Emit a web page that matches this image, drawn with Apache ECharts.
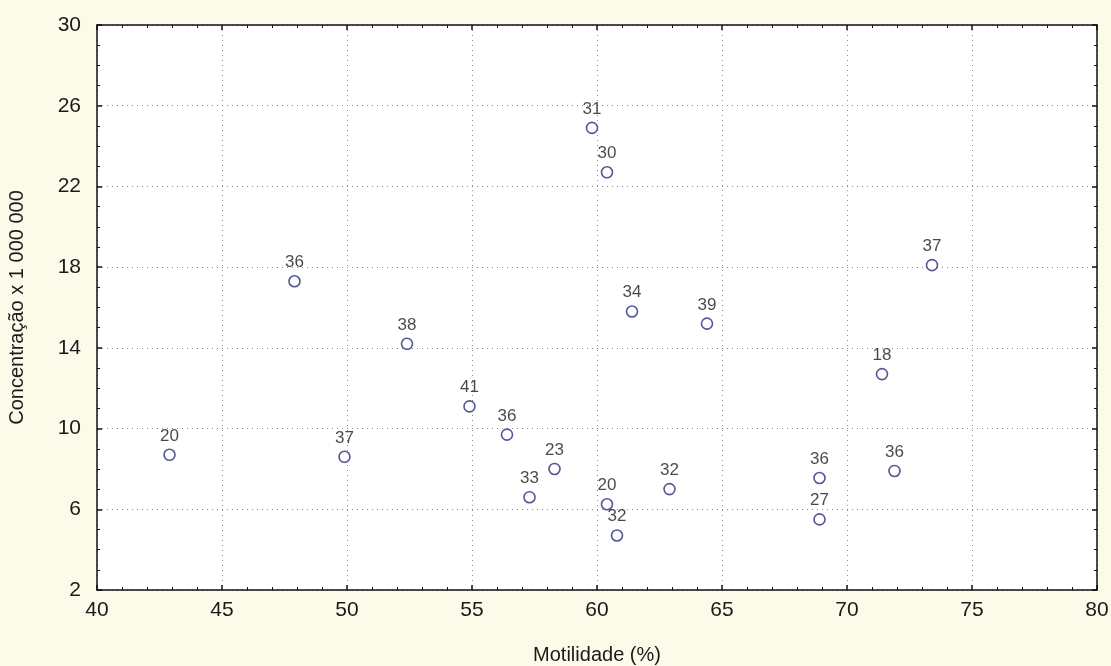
<!DOCTYPE html>
<html>
<head>
<meta charset="utf-8">
<script src="https://cdn.jsdelivr.net/npm/echarts@6/dist/echarts.min.js"></script>
<style>
html,body{margin:0;padding:0;background:#fcfbe9;}
#c{width:1111px;height:666px;}
</style>
</head>
<body>
<div id="c"></div>
<script>
// Data
const motilidade   = [42.9, 47.9, 49.9, 52.4, 54.9, 56.4, 57.3, 58.3, 60.4, 60.8, 62.9, 61.4, 64.4, 59.8, 60.4, 73.4, 71.4, 71.9, 68.9, 68.9];
const concentracao = [8.7, 17.3, 8.6, 14.2, 11.1, 9.7, 6.6, 8.0, 6.25, 4.7, 7.0, 15.8, 15.2, 24.9, 22.7, 18.1, 12.7, 7.9, 7.55, 5.5];
const pointLabels  = ['20', '36', '37', '38', '41', '36', '33', '23', '20', '32', '32', '34', '39', '31', '30', '37', '18', '36', '36', '27'];
const xTicks = [40, 45, 50, 55, 60, 65, 70, 75, 80];
const yTicks = [2, 6, 10, 14, 18, 22, 26, 30];
const xTitle = 'Motilidade (%)';
const yTitle = 'Concentração x 1 000 000';

const points = motilidade.map((x, i) => ({ value: [x, concentracao[i]], name: pointLabels[i] }));

const FONT = 'Liberation Sans, Arial, sans-serif';
const splitStyle = { show: true, lineStyle: { color: '#8a8a8a', type: [1, 4], width: 1 } };

function axisBase(min, max, interval, minorSplit) {
  return {
    type: 'value', min, max, interval,
    axisLine: { show: true, onZero: false, lineStyle: { color: '#111', width: 1.5 } },
    axisTick: { show: true, inside: true, length: 5, lineStyle: { color: '#111', width: 1.5 } },
    minorTick: { show: true, splitNumber: minorSplit, length: 3, lineStyle: { color: '#111', width: 1 } }
  };
}

const chart = echarts.init(document.getElementById('c'), null, { renderer: 'canvas' });
chart.setOption({
  backgroundColor: '#fcfbe9',
  animation: false,
  grid: { left: 97, right: 14, top: 25, bottom: 76, outerBoundsMode: 'none', containLabel: false,
          show: true, backgroundColor: '#ffffff', borderWidth: 0 },
  xAxis: [
    Object.assign(axisBase(xTicks[0], xTicks[xTicks.length - 1], 5, 5), {
      position: 'bottom',
      name: xTitle, nameLocation: 'middle', nameGap: 55,
      nameTextStyle: { fontFamily: FONT, fontSize: 20, color: '#1a1a1a' },
      axisLabel: { show: true, fontFamily: FONT, fontSize: 21, color: '#1a1a1a', margin: 10 },
      splitLine: splitStyle
    }),
    Object.assign(axisBase(xTicks[0], xTicks[xTicks.length - 1], 5, 5), {
      position: 'top', axisLabel: { show: false }, splitLine: { show: false }
    })
  ],
  yAxis: [
    Object.assign(axisBase(yTicks[0], yTicks[yTicks.length - 1], 4, 4), {
      position: 'left',
      name: yTitle, nameLocation: 'middle', nameGap: 70, nameRotate: 90,
      nameTextStyle: { fontFamily: FONT, fontSize: 20, color: '#1a1a1a' },
      axisLabel: { show: true, fontFamily: FONT, fontSize: 21, color: '#1a1a1a', margin: 16 },
      splitLine: splitStyle
    }),
    Object.assign(axisBase(yTicks[0], yTicks[yTicks.length - 1], 4, 4), {
      position: 'right', axisLabel: { show: false }, splitLine: { show: false }
    })
  ],
  series: [{
    type: 'scatter',
    xAxisIndex: 0, yAxisIndex: 0,
    data: points,
    symbol: 'circle',
    symbolSize: 11,
    itemStyle: { color: '#ffffff', borderColor: '#2c2c7c', borderWidth: 1.6 },
    label: {
      show: true, position: 'top', distance: 4,
      formatter: p => p.name,
      fontFamily: FONT, fontSize: 17, color: '#1a1a1a'
    }
  }]
});
</script>
</body>
</html>
